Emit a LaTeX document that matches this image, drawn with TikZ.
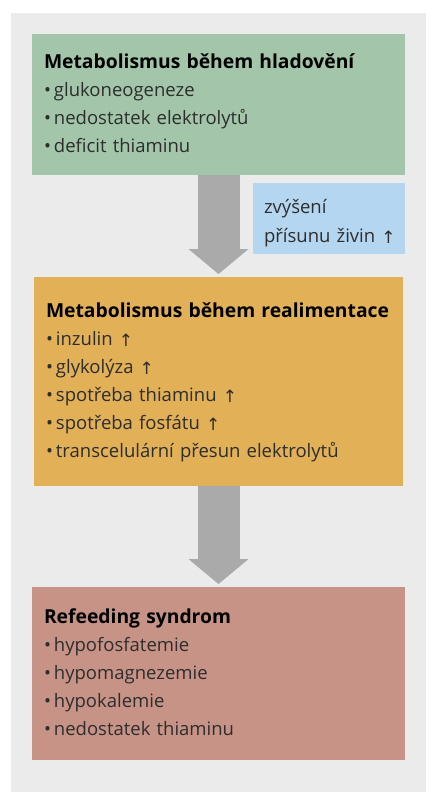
\documentclass[tikz,border=0pt]{standalone}
\usepackage{fontspec}
\setmainfont{Open Sans}
\newfontfamily\sipkafont{DejaVu Sans}
\usetikzlibrary{arrows.meta}
\definecolor{bggray}{RGB}{235,235,235}
\definecolor{hladgreen}{RGB}{163,198,171}
\definecolor{prisunblue}{RGB}{181,214,241}
\definecolor{realorange}{RGB}{226,176,87}
\definecolor{refrose}{RGB}{200,147,135}
\definecolor{sipkagray}{RGB}{170,170,170}
\definecolor{txtgray}{RGB}{45,45,45}
\newcommand{\nadpis}[1]{\strut{\fontsize{19.3}{28}\selectfont\bfseries\color{black}#1}}
\newcommand{\pol}[1]{\strut\textbullet\hspace{3pt}#1}
\newcommand{\nahoru}{\raisebox{-1.5pt}{\sipkafont\fontsize{17}{28}\selectfont ↑}}

\begin{document}
\begin{tikzpicture}[x=1pt,y=-1pt,
  box/.style={anchor=north west,outer sep=0pt,align=left,text width=349pt,inner xsep=12pt,
    font=\fontsize{18.5}{28}\selectfont,text=txtgray},
  sipka/.style={sipkagray,line width=42pt,-{Triangle[length=25pt,width=60pt,line width=0pt]}}]
\useasboundingbox (0,0) rectangle (436,800);
%background
\fill[bggray] (11,13) rectangle (426,792);
%boxes
\node[box,fill=hladgreen,inner ysep=14.5pt] (hlad) at (32,34)
  {\nadpis{Metabolismus během hladovění}\\
   \pol{glukoneogeneze}\\
   \pol{nedostatek elektrolytů}\\
   \pol{deficit thiaminu}};
\node[box,fill=prisunblue,inner ysep=6pt,text width=130pt,inner xsep=11pt,
  font=\fontsize{18.5}{29}\selectfont] (prisun) at (253,183)
  {\rule{0pt}{24pt}zvýšení\\
   přísunu~živin~\nahoru\rule[-6pt]{0pt}{6pt}};
\node[box,fill=realorange,inner ysep=20.5pt,text width=345pt] (real) at (34,277)
  {\nadpis{Metabolismus během realimentace}\\
   \pol{inzulin \nahoru}\\
   \pol{glykolýza \nahoru}\\
   \pol{spotřeba thiaminu \nahoru}\\
   \pol{spotřeba fosfátu \nahoru}\\
   \pol{transcelulární přesun elektrolytů}};
\node[box,fill=refrose,inner ysep=16.5pt] (refeed) at (32,587)
  {\nadpis{Refeeding syndrom}\\
   \pol{hypofosfatemie}\\
   \pol{hypomagnezemie}\\
   \pol{hypokalemie}\\
   \pol{nedostatek thiaminu}};
%arrows
\draw[sipka] (hlad.south) -- ([yshift=3pt]real.north);
\draw[sipka] (real.south) -- ([yshift=3pt]refeed.north);
\end{tikzpicture}
\end{document}
